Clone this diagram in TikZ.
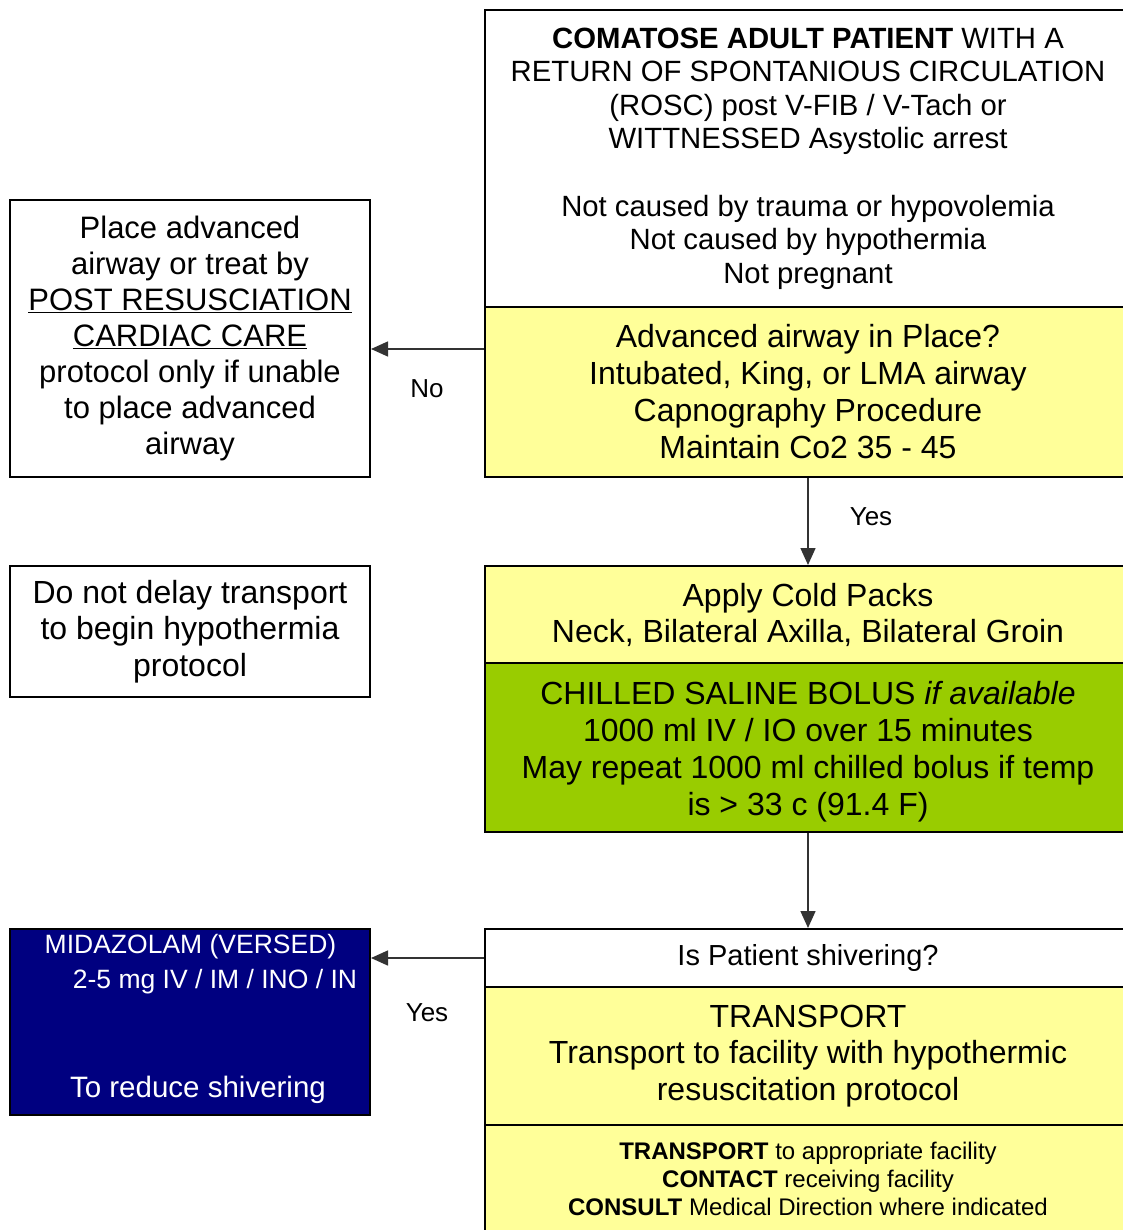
\documentclass[tikz,border=0pt]{standalone}
\usepackage{fontspec}
\setmainfont{Liberation Sans}
\usetikzlibrary{arrows.meta}
\definecolor{boxyellow}{HTML}{FFFF99}
\definecolor{boxgreen}{HTML}{99CC00}
\definecolor{boxblue}{HTML}{000080}
\tikzset{
  flowbox/.style={draw=black, line width=2pt, rectangle, align=center, inner sep=0pt, text=black},
  arr/.style={line width=1.5pt, draw=black!80, -{Triangle[length=17pt,width=15pt]}},
  lbl/.style={font=\fontsize{26}{30}\selectfont, inner sep=0pt},
  bigtxt/.style={font=\fontsize{32}{37}\selectfont},
}
\begin{document}
\begin{tikzpicture}[x=1pt,y=-1pt]
\clip (0,0) rectangle (1123,1230);
\fill[white] (0,0) rectangle (1123,1230);

% right column
\node[flowbox, fill=white, minimum width=646pt, minimum height=297pt,
      font=\fontsize{29.3}{33.6}\selectfont] (top) at (808,158.5)
  {{\bfseries COMATOSE ADULT PATIENT} WITH A\\
   RETURN OF SPONTANIOUS CIRCULATION\\
   (ROSC) post V-FIB / V-Tach or\\
   WITTNESSED Asystolic arrest\\[33.6pt]
   Not caused by trauma or hypovolemia\\
   Not caused by hypothermia\\
   Not pregnant};

\node[flowbox, bigtxt, fill=boxyellow, minimum width=646pt, minimum height=170pt] (airway) at (808,392)
  {Advanced airway in Place?\\
   Intubated, King, or LMA airway\\
   Capnography Procedure\\
   Maintain Co2 35 - 45};

\node[flowbox, fill=boxyellow, minimum width=646pt, minimum height=97pt,
      font=\fontsize{32}{36}\selectfont] (cold) at (808,614.5)
  {Apply Cold Packs\\
   Neck, Bilateral Axilla, Bilateral Groin};

\node[flowbox, fill=boxgreen, minimum width=646pt, minimum height=169pt] (saline) at (808,747.5) {};
\node[bigtxt, align=center, inner sep=0pt] (salinetxt) at (808,751.5)
  {CHILLED SALINE BOLUS \textit{if available}\\
   1000 ml IV / IO over 15 minutes\\
   May repeat 1000 ml chilled bolus if temp\\
   is > 33 c (91.4 F)};

\node[flowbox, fill=white, minimum width=646pt, minimum height=58pt,
      font=\fontsize{29}{33}\selectfont] (shiver) at (808,958)
  {Is Patient shivering?};

\node[flowbox, fill=boxyellow, minimum width=646pt, minimum height=138pt,
      font=\fontsize{32}{36.5}\selectfont] (transport) at (808,1056)
  {TRANSPORT\\
   Transport to facility with hypothermic\\
   resuscitation protocol};

\node[flowbox, fill=boxyellow, minimum width=646pt, minimum height=107pt,
      font=\fontsize{24}{28}\selectfont] (contact) at (808,1178.5)
  {{\bfseries TRANSPORT} to appropriate facility\\
   {\bfseries CONTACT} receiving facility\\
   {\bfseries CONSULT} Medical Direction where indicated};

% left column
\node[flowbox, fill=white, minimum width=360pt, minimum height=277pt,
      font=\fontsize{31}{36}\selectfont] (left1) at (190,338.5)
  {Place advanced\\
   airway or treat by\\
   \underline{POST RESUSCIATION}\\
   \underline{CARDIAC CARE}\\
   protocol only if unable\\
   to place advanced\\
   airway};

\node[flowbox, fill=white, minimum width=360pt, minimum height=131pt,
      font=\fontsize{32}{36.5}\selectfont] (left2) at (190,631.5)
  {Do not delay transport\\
   to begin hypothermia\\
   protocol};

\node[flowbox, fill=boxblue, minimum width=360pt, minimum height=186pt] (blue) at (190,1022) {};
\node[font=\fontsize{26.5}{30}\selectfont, text=white, inner sep=0pt] (m1) at (190.5,947) {MIDAZOLAM (VERSED)};
\node[font=\fontsize{26.5}{30}\selectfont, text=white, inner sep=0pt] (m2) at (215,982) {2-5 mg IV / IM / INO / IN};
\node[font=\fontsize{29.5}{33}\selectfont, text=white, inner sep=0pt] (m3) at (198,1090) {To reduce shivering};

% connectors
\coordinate (noy) at (0,349);
\draw[arr] (airway.west |- noy) -- (left1.east |- noy);
\draw[arr] (airway.south) -- (cold.north);
\draw[arr] (saline.south) -- (shiver.north);
\draw[arr] (shiver.west) -- (blue.east |- shiver.west);

% labels
\node[lbl] (lno) at (427,389) {No};
\node[lbl] (lyes1) at (871,517) {Yes};
\node[lbl] (lyes2) at (427,1013) {Yes};
\end{tikzpicture}
\end{document}
